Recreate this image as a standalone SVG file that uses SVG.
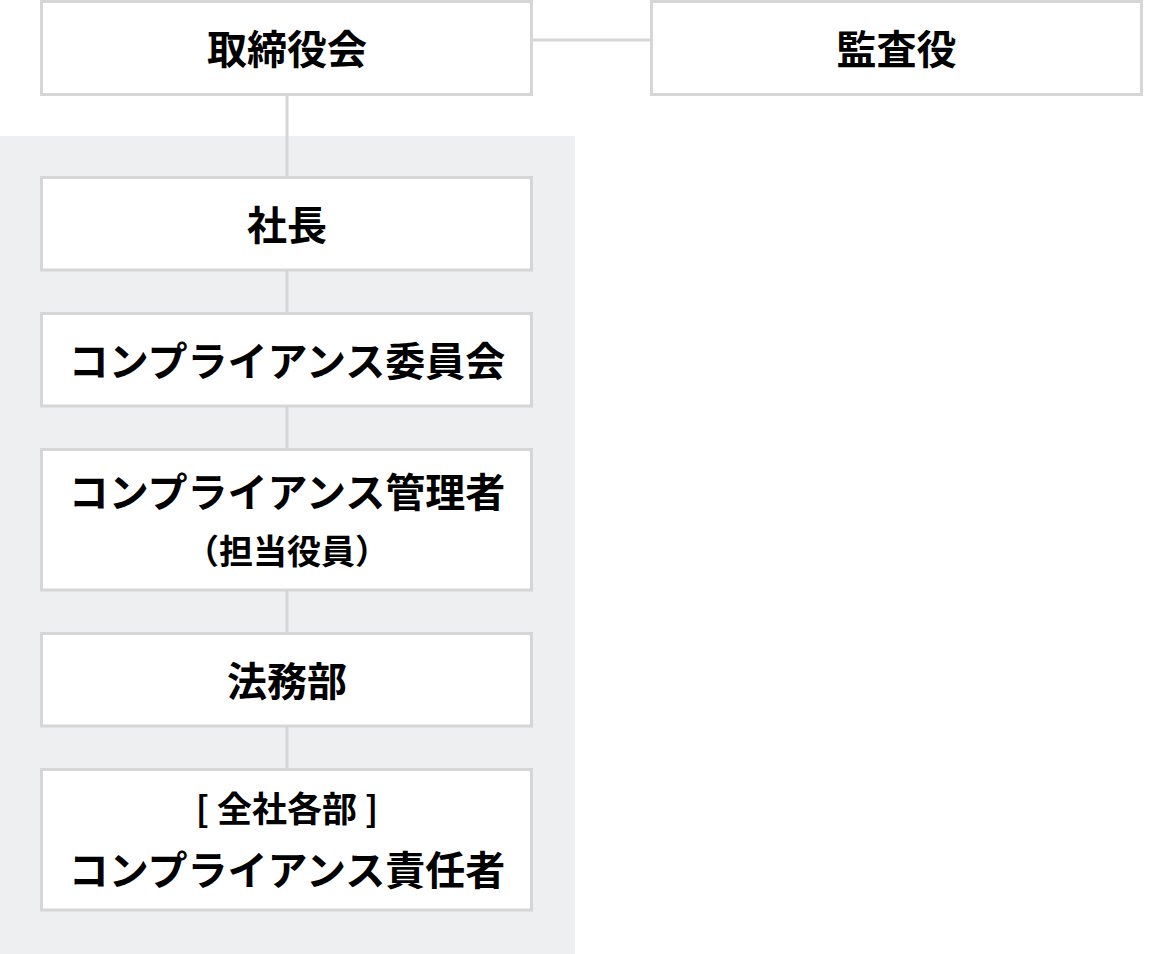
<svg xmlns="http://www.w3.org/2000/svg" width="1164" height="954" viewBox="0 0 1164 954">
<style>
.box{fill:#ffffff;stroke:#d6d6d8;stroke-width:3}
.t{font-family:"Noto Sans CJK JP","Noto Sans CJK SC",sans-serif;font-weight:700;fill:#000000;text-anchor:middle}
.l{font-size:40px}
.s{font-size:34px}
.c{stroke:#d6d6d8;stroke-width:3;fill:none}
</style>
<rect x="0" y="0" width="1164" height="954" fill="#ffffff"/>
<rect id="panel" x="0" y="136" width="575" height="818" fill="#eeeff0"/>
<g id="connectors">
<line class="c" x1="532" y1="40" x2="651" y2="40"/>
<line class="c" x1="287" y1="95" x2="287" y2="177"/>
<line class="c" x1="287" y1="270" x2="287" y2="313"/>
<line class="c" x1="287" y1="406" x2="287" y2="449"/>
<line class="c" x1="287" y1="590" x2="287" y2="633"/>
<line class="c" x1="287" y1="726" x2="287" y2="769"/>
</g>
<g id="board">
<rect class="box" x="41.5" y="1.5" width="490" height="93"/>
<text class="t l" x="287" y="64">取締役会</text>
</g>
<g id="auditor">
<rect class="box" x="651.5" y="1.5" width="490" height="93"/>
<text class="t l" x="896.5" y="64">監査役</text>
</g>
<g id="president">
<rect class="box" x="41.5" y="177.5" width="490" height="92.5"/>
<text class="t l" x="287" y="240">社長</text>
</g>
<g id="committee">
<rect class="box" x="41.5" y="313.5" width="490" height="92.5"/>
<text class="t l" x="287" y="376">コンプライアンス委員会</text>
</g>
<g id="manager">
<rect class="box" x="41.5" y="449.5" width="490" height="140.5"/>
<text class="t l" x="287" y="507">コンプライアンス管理者</text>
<text class="t s" x="287" y="564">（担当役員）</text>
</g>
<g id="legal">
<rect class="box" x="41.5" y="633.5" width="490" height="92.5"/>
<text class="t l" x="287" y="696">法務部</text>
</g>
<g id="officers">
<rect class="box" x="41.5" y="769.5" width="490" height="140.5"/>
<text class="t" style="font-size:35px" x="287" y="822">[ 全社各部 ]</text>
<text class="t l" x="287" y="885">コンプライアンス責任者</text>
</g>
</svg>
